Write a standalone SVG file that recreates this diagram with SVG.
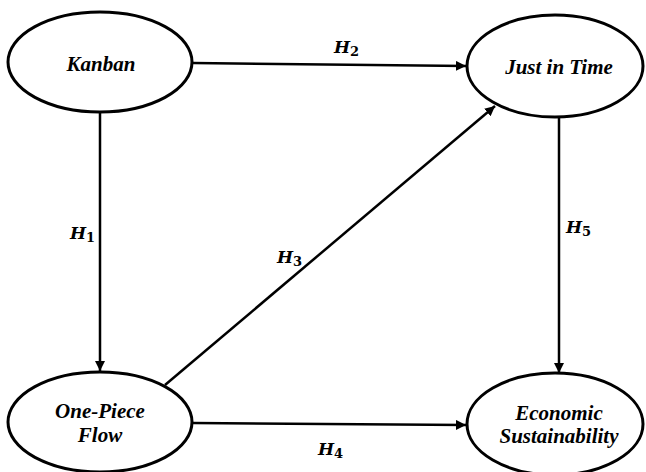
<svg xmlns="http://www.w3.org/2000/svg" width="646" height="472" viewBox="0 0 646 472">
<defs>
<marker id="ah" viewBox="0 0 10 10" refX="10" refY="5" markerWidth="4" markerHeight="4" orient="auto" markerUnits="strokeWidth">
<path d="M0,0 L10,5 L0,10 z" fill="#000"/>
</marker>
<style>
.node ellipse{fill:#fff;stroke:#000;stroke-width:3}
.lbl{font-family:"Liberation Serif","Times New Roman",serif;font-weight:bold;font-style:italic;font-size:21px;fill:#000;text-anchor:middle}
.conn line{stroke:#000;stroke-width:2.5;marker-end:url(#ah)}
.h{font-family:"DejaVu Serif","Liberation Serif",serif;font-weight:bold;font-style:italic;font-size:17px;fill:#000}
.sub{font-style:normal;font-size:13px}
</style>
</defs>
<rect width="646" height="472" fill="#fff"/>
<g id="connectors" class="conn">
<line x1="193" y1="63" x2="466" y2="66"/>
<line x1="100" y1="112" x2="100" y2="371"/>
<line x1="559" y1="117" x2="559" y2="373"/>
<line x1="165" y1="385" x2="495" y2="106"/>
<line x1="193" y1="423" x2="466" y2="425"/>
</g>
<g id="hlabels">
<text class="h" x="334" y="53">H<tspan class="sub" dy="3">2</tspan></text>
<text class="h" x="70" y="239">H<tspan class="sub" dy="3">1</tspan></text>
<text class="h" x="277" y="263">H<tspan class="sub" dy="3">3</tspan></text>
<text class="h" x="566" y="233">H<tspan class="sub" dy="3">5</tspan></text>
<text class="h" x="318" y="455">H<tspan class="sub" dy="3">4</tspan></text>
</g>
<g id="kanban" class="node">
<ellipse cx="100" cy="62" rx="92" ry="50"/>
<text class="lbl" x="101" y="71">Kanban</text>
</g>
<g id="jit" class="node">
<ellipse cx="555" cy="66" rx="88" ry="51"/>
<text class="lbl" x="559" y="74">Just in Time</text>
</g>
<g id="opf" class="node">
<ellipse cx="100" cy="422" rx="92" ry="50"/>
<text class="lbl" x="100" y="418">One-Piece</text>
<text class="lbl" x="100" y="442">Flow</text>
</g>
<g id="econ" class="node">
<ellipse cx="555" cy="424" rx="88" ry="51"/>
<text class="lbl" x="559" y="420">Economic</text>
<text class="lbl" x="559" y="443">Sustainability</text>
</g>
</svg>
